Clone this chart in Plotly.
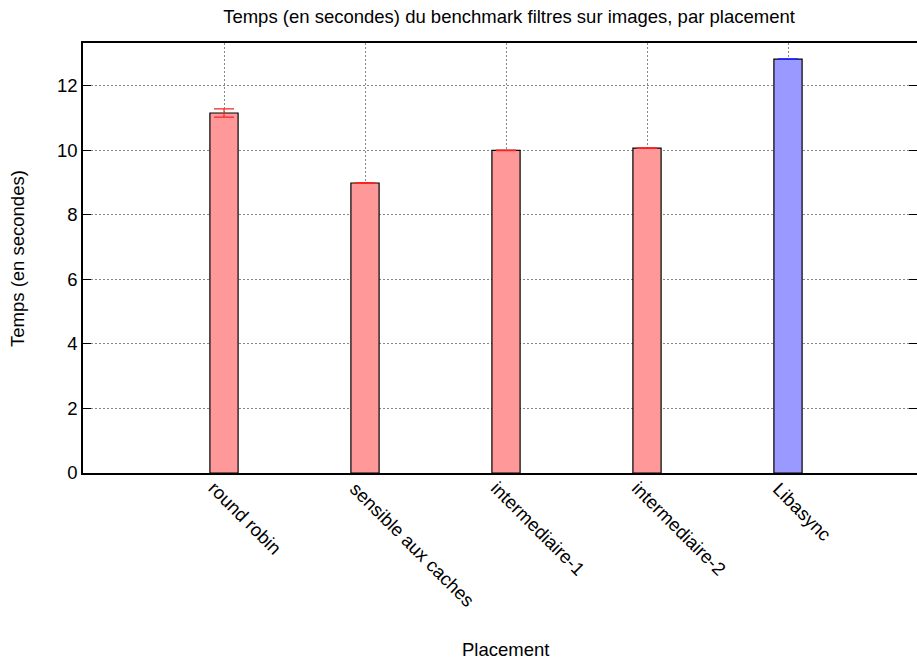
import plotly.graph_objects as go

categories = ["round robin", "sensible aux caches", "intermediaire-1", "intermediaire-2", "Libasync"]
values = [11.16, 8.99, 10.0, 10.07, 12.83]
errors = [0.13, 0.01, 0.01, 0.01, 0.01]
positions = [1, 2, 3, 4, 5]
y_ticks = [0, 2, 4, 6, 8, 10, 12]

red_fill, red_line = "#ff9999", "#ff2020"
blue_fill, blue_line = "#9999ff", "#2020ff"

W, H = 917, 661
L, R, T, B = 83, 0, 43, 188
PW, PH = W - L - R, H - T - B
FS = 18.5
font = "Liberation Sans, Arial, Helvetica, sans-serif"


def px(x):
    return (x - L) / PW


def py(y):
    return (H - B - y) / PH


fig = go.Figure()
fig.add_trace(go.Bar(
    x=positions[:4], y=values[:4], width=0.2,
    marker=dict(color=red_fill, line=dict(color="black", width=1.2)),
    error_y=dict(type="data", array=errors[:4], color=red_line, thickness=1.2, width=10),
    showlegend=False, hoverinfo="skip",
))
fig.add_trace(go.Bar(
    x=positions[4:], y=values[4:], width=0.2,
    marker=dict(color=blue_fill, line=dict(color="black", width=1.2)),
    error_y=dict(type="data", array=errors[4:], color=blue_line, thickness=1.2, width=10),
    showlegend=False, hoverinfo="skip",
))

annotations = []
for p, c in zip(positions, categories):
    annotations.append(dict(
        x=p, y=0, xref="x", yref="y", text=c, showarrow=False,
        textangle=45, xanchor="left", yanchor="top", xshift=-22, yshift=-2,
        font=dict(size=FS),
    ))
annotations.append(dict(x=px(506), y=py(649), xref="paper", yref="paper",
                        text="Placement", showarrow=False, xanchor="center",
                        yanchor="middle", font=dict(size=FS)))
annotations.append(dict(x=px(17), y=py(259), xref="paper", yref="paper",
                        text="Temps (en secondes)", showarrow=False, textangle=-90,
                        xanchor="center", yanchor="middle", font=dict(size=FS)))

fig.update_layout(
    width=W, height=H,
    margin=dict(l=L, r=R, t=T, b=B, autoexpand=False),
    plot_bgcolor="white", paper_bgcolor="white",
    font=dict(family=font, size=FS, color="black"),
    barmode="overlay",
    title=dict(text="Temps (en secondes) du benchmark filtres sur images, par placement",
               x=509 / W, xanchor="center", y=1 - 17 / H, yanchor="middle",
               font=dict(size=FS)),
    annotations=annotations,
)
fig.update_xaxes(
    range=[0, PW / 141], tickvals=positions, showticklabels=False,
    showgrid=True, gridcolor="#888888", griddash="2px,2px", gridwidth=1,
    showline=True, linecolor="black", linewidth=1.5, mirror=True,
    ticks="", zeroline=False, automargin=False,
)
fig.update_yaxes(
    range=[0, 13.33], tickvals=y_ticks,
    showgrid=True, gridcolor="#888888", griddash="2px,2px", gridwidth=1,
    showline=True, linecolor="black", linewidth=1.5, mirror="ticks",
    ticks="inside", ticklen=8, tickcolor="black", zeroline=False,
    tickfont=dict(size=FS), automargin=False,
)

fig.write_html("out.html", config={"displayModeBar": False},
               post_script="document.body.style.margin='0';document.body.style.padding='0';")
